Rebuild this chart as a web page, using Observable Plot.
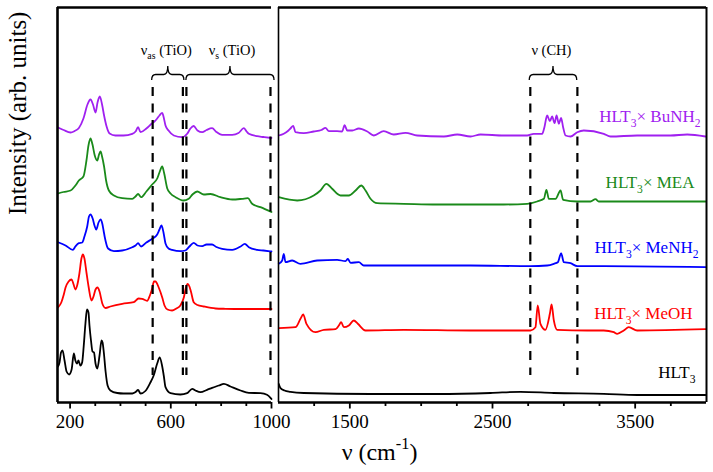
<!DOCTYPE html>
<html><head><meta charset="utf-8">
<script src="https://cdn.jsdelivr.net/npm/d3@7"></script>
<script src="https://cdn.jsdelivr.net/npm/@observablehq/plot@0.6"></script>
<style>
body{margin:0;background:#fff;}
#chart{position:relative;width:713px;height:472px;background:#fff;}
#chart svg{position:absolute;left:0;top:0;}
#chart svg text{font-family:"Liberation Serif",serif;}
</style></head><body><div id="chart"></div>
<script>
// ---------- data (wavenumber in cm^-1, stacked intensity in arb. units) ----------
const seriesNames = ["HLT_{3}× BuNH_{2}", "HLT_{3}× MEA", "HLT_{3}× MeNH_{2}", "HLT_{3}× MeOH", "HLT_{3}"];
const seriesColors = ["#a020f0", "#1a8a1a", "#0000ff", "#ff0000", "#000000"];

// left panel (150 – 1000 cm^-1)
const leftBuNH2 = [[152,275],[174,272.5],[202,270],[218,271.5],[235,274.5],[253,284],[269,298],[281,303],[291,298],[301,290],[309,300],[318,306],[327,298],[335,287],[345,276],[357,269],[380,267],[412,267],[447,268.7],[460,271],[470,275.3],[480,270.3],[503,274],[526,279.3],[535,281],[546,284],[555,287],[566,289.7],[571,286],[579,277],[591,272],[612,267],[645,265.3],[665,268.7],[678,274],[691,276.5],[706,272],[725,270.3],[742,272.5],[764,274.3],[781,270.5],[804,267.7],[844,267.7],[869,269.5],[890,274.3],[901,271],[910,268.7],[943,266.3],[968,265.5],[1000,264.5]];
const leftMEA = [[152,209],[174,210.5],[202,212],[221,217],[235,222],[253,226],[265,242],[273,257],[281,264],[289,258],[298,247],[308,242],[315,248],[321,251],[327,246],[335,236],[343,222],[354,212],[374,207],[407,204.3],[447,203.7],[460,206],[470,208.5],[482,205.3],[503,211],[526,218],[546,224],[555,230],[566,236],[573,230],[586,214],[599,209],[619,205.3],[650,202],[671,203.7],[686,208],[705,211],[731,208],[758,208.5],[797,205.3],[844,203],[883,203.7],[906,204.3],[923,198.7],[956,195.3],[1000,190.5]];
const leftMeNH2 = [[152,160.3],[182,157],[211,152.7],[221,156],[235,159.3],[248,160],[257,166],[268,176],[275,186],[281,188],[290,183.7],[297,177],[304,173],[313,180],[321,183],[328,178.7],[333,172],[338,165],[351,154],[374,151.3],[407,152],[447,155.3],[460,157],[470,159.3],[482,156],[503,160],[526,163.7],[546,168],[555,173],[563,177],[571,170],[579,159],[591,154],[605,152.7],[638,151.3],[658,152],[674,156],[691,159.7],[706,157],[725,156.3],[742,158],[764,158],[781,155.5],[804,153.7],[844,152.7],[877,156],[894,158.7],[910,155.3],[943,152.7],[968,152],[1000,151]];
const leftMeOH = [[152,95],[165,100],[175,108],[182,115],[194,121],[206,123],[214,118],[221,113],[229,118],[237,129],[245,144],[251,148],[257,144],[265,130],[274,115],[285,102],[293,106],[301,113],[309,115],[317,111],[328,99],[341,94.5],[360,96],[407,98.7],[453,100.3],[472,104],[486,103.7],[506,101.7],[517,107],[526,114],[533,121],[539,121],[552,115],[566,105],[575,97],[587,93],[605,92],[622,94],[638,97],[652,105.3],[660,115],[667,118.7],[674,116],[680,111],[691,100.3],[706,97.5],[731,96],[778,94],[817,93.7],[890,93.5],[1000,93.5]];
const leftHLT3 = [[152,36],[158,40],[164,50],[170,52],[178,42],[186,31],[196,28],[206,33],[215,49],[221,42],[228,39],[233,42],[241,37],[248,40.3],[254,56],[261,79],[267,93],[273,90],[277,77],[283,62],[289,51],[295,50],[301,39],[308,34],[317,47],[325,62],[329,60],[334,50],[341,31],[349,17],[360,12],[387,9.5],[412,9],[447,9],[460,10.5],[470,12.5],[480,9],[499,11.5],[519,20],[532,27],[546,39],[556,45],[566,36],[572,27],[579,15.3],[599,9.3],[638,8],[665,9.3],[685,13.7],[698,12],[718,10.3],[744,12.7],[764,14.7],[791,17],[811,18.7],[837,16],[877,12],[910,9.7],[956,9.3],[982,7.7],[996,4.7],[1000,3.5]];

// right panel (1000 – 4000 cm^-1)
const rightBuNH2 = [[1002,267],[1037,268.7],[1070,272],[1084,274],[1103,276.7],[1119,270.3],[1177,269.3],[1247,271],[1301,272.5],[1329,274.7],[1353,271.3],[1411,271.3],[1446,271],[1463,277.3],[1482,272],[1517,272],[1563,274],[1622,271],[1668,267],[1738,271.3],[1808,268],[1890,269.7],[1972,267],[2159,266],[2253,268],[2346,266],[2416,268],[2579,267],[2743,267],[2789,268.7],[2848,268.7],[2864,275.3],[2883,287],[2902,281.3],[2918,286],[2935,279.3],[2949,287],[2965,278.7],[2981,284.7],[2995,275.3],[3012,267],[3047,266],[3094,270.3],[3140,272],[3280,268.7],[3327,266],[3514,267],[3748,267],[3865,268],[3993,266]];
const rightMEA = [[1002,205.3],[1131,202],[1247,207],[1294,212],[1336,218.7],[1376,213.7],[1435,207],[1493,207],[1540,212],[1580,217],[1610,212],[1645,203.7],[1692,199.3],[1878,198.7],[2112,198],[2393,198],[2579,198],[2743,198.7],[2813,201],[2860,203.7],[2878,212.7],[2895,203.7],[2942,203.7],[2977,212],[2995,202.7],[3094,201],[3187,201],[3222,203.3],[3245,201],[3514,201],[3993,201]];
const rightMeNH2 = [[1002,138.7],[1026,142],[1037,148.7],[1049,140.3],[1096,142],[1154,138.7],[1271,142],[1411,142.7],[1470,141.3],[1486,143.5],[1505,139.7],[1563,140.3],[1598,137],[1878,137],[2346,137],[2766,136.3],[2883,137],[2930,138.7],[2958,140.3],[2981,149.3],[3000,140.3],[3047,139.3],[3094,136.3],[3280,136.3],[3993,135.3]];
const rightMeOH = [[1002,74.3],[1119,75.3],[1154,83.7],[1173,88],[1196,78.7],[1259,70.3],[1318,72.7],[1400,73.3],[1423,77],[1439,80.3],[1458,75.3],[1493,77],[1528,82],[1556,78.7],[1610,72],[1878,72.7],[2346,72],[2766,72],[2801,75.3],[2817,97],[2836,78.7],[2871,72.7],[2902,88.7],[2914,98],[2930,82],[2953,72.7],[3164,72],[3280,72],[3350,70.3],[3374,68.7],[3420,72],[3455,75.3],[3514,72],[3993,73.3]];
const rightHLT3 = [[1002,18.5],[1014,14.3],[1042,12],[1084,10.7],[1177,9.5],[1645,8.5],[2112,8.5],[2486,9.5],[2696,10.7],[2930,9.5],[3280,8.7],[3514,7.5],[3993,7.5]];

// axes
const leftTicks = [200,300,400,500,600,700,800,900,1000];
const leftTickLabels = [200,600,1000];
const rightTicks = [1250,1500,1750,2000,2250,2500,2750,3000,3250,3500,3750];
const rightTickLabels = [1500,2500,3500];
const yTitle = "Intensity (arb. units)";
const xTitle = "ν (cm^{-1})";

// annotations
const leftDashes = [528,648,662,996];
const rightDashes = [2765,3095];
const leftBraces = [[526,654],[662,1012]];
const rightBraces = [[2761,3094]];
const leftBandNames = ["ν_{as} (TiO)","ν_{s} (TiO)"];
const leftBandX = [582,843];
const rightBandNames = ["ν (CH)"];
const rightBandX = [2913];
const labelX = [3958,3916,3944,3902,3923];
const labelY = [281,215,150,84,25];

// ---------- drawing ----------
const W = 713, H = 472;
const YDOMAIN = [0,395];
const dashTop = 315, dashBottom = 27, bandY = 348;
const font = "Liberation Serif";

function spectra(list) {
  return list.map((arr,i) => Plot.line(arr, {x: d=>d[0], y: d=>d[1], stroke: seriesColors[i], strokeWidth: 1.8, curve: "monotone-x"}));
}
function ticks(all, major) {
  return [
    Plot.ruleX(all.filter(t=>!major.includes(t)), {x: d=>d, y1: 0, y2: -4, strokeWidth: 1.8}),
    Plot.ruleX(major, {x: d=>d, y1: 0, y2: -6.5, strokeWidth: 1.8}),
    Plot.text(major, {x: d=>d, y: 0, dy: 25, text: d=>String(d), lineAnchor: "bottom", fontSize: 19, fontFamily: font})
  ];
}

const left = Plot.plot({
  width: W, height: H,
  marginLeft: 57, marginRight: W-271, marginTop: 7, marginBottom: 70,
  x: {domain: [150,1000], axis: null},
  y: {domain: YDOMAIN, axis: null},
  style: {background: "transparent", overflow: "visible", fontFamily: font, fontSize: "19px"},
  marks: [
    ...spectra([leftBuNH2,leftMEA,leftMeNH2,leftMeOH,leftHLT3]),
    Plot.ruleX(leftDashes, {x: d=>d, y1: dashTop, y2: dashBottom, stroke: "black", strokeWidth: 2.2, strokeDasharray: "9,7.5"}),
    Plot.ruleX([150], {strokeWidth: 2.6}),
    Plot.ruleY([0, YDOMAIN[1]], {strokeWidth: 2.6}),
    ...ticks(leftTicks, leftTickLabels),
    Plot.text(leftBandNames, {x: (d,i)=>leftBandX[i], y: bandY, text: d=>d, lineAnchor: "bottom", fontSize: 14.5, fontFamily: font}),
    Plot.text([yTitle], {frameAnchor: "left", dx: -32, dy: 10, rotate: -90, lineAnchor: "bottom", fontSize: 25, fontFamily: font})
  ]
});

const right = Plot.plot({
  width: W, height: H,
  marginLeft: 278, marginRight: W-706, marginTop: 7, marginBottom: 70,
  x: {domain: [1000,4000], axis: null},
  y: {domain: YDOMAIN, axis: null},
  style: {background: "transparent", overflow: "visible", fontFamily: font, fontSize: "19px"},
  marks: [
    ...spectra([rightBuNH2,rightMEA,rightMeNH2,rightMeOH,rightHLT3]),
    Plot.ruleX(rightDashes, {x: d=>d, y1: dashTop, y2: dashBottom, stroke: "black", strokeWidth: 2.2, strokeDasharray: "9,7.5"}),
    Plot.ruleX([1000], {strokeWidth: 1.6}),
    Plot.ruleX([4000], {strokeWidth: 2}),
    Plot.ruleY([0, YDOMAIN[1]], {strokeWidth: 2.6}),
    ...ticks(rightTicks, rightTickLabels),
    Plot.text(rightBandNames, {x: (d,i)=>rightBandX[i], y: bandY, text: d=>d, lineAnchor: "bottom", fontSize: 14.5, fontFamily: font}),
    Plot.text(seriesNames, {x: (d,i)=>labelX[i], y: (d,i)=>labelY[i], text: d=>d, fill: (d,i)=>seriesColors[i], textAnchor: "end", lineAnchor: "bottom", fontSize: 17, fontFamily: font}),
    Plot.text([xTitle], {frameAnchor: "bottom", dx: -113, dy: 57, lineAnchor: "bottom", fontSize: 24, fontFamily: font})
  ]
});

function scaleFn(plot, name) {
  const s = plot.scale(name);
  if (s && typeof s.apply === "function") return v => s.apply(v);
  return d3.scaleLinear(s.domain, s.range);
}
function addBraces(plot, spans) {
  const fx = scaleFn(plot, "x"), fy = scaleFn(plot, "y");
  const yEnd = fy(322), yFlat = fy(327.5), yTip = fy(336);
  const g = d3.select(plot).append("g").attr("fill","none").attr("stroke","black").attr("stroke-width",1.3);
  for (const [a,b] of spans) {
    const x1 = fx(a), x2 = fx(b), xm = (x1+x2)/2, r = 4;
    g.append("path").attr("d",
      `M${x1},${yEnd} Q${x1},${yFlat} ${x1+r},${yFlat} L${xm-r},${yFlat} Q${xm},${yFlat} ${xm},${yTip} ` +
      `Q${xm},${yFlat} ${xm+r},${yFlat} L${x2-r},${yFlat} Q${x2},${yFlat} ${x2},${yEnd}`);
  }
}
function richText(svg) {
  d3.select(svg).selectAll("text").each(function() {
    const t = this.textContent;
    if (!/[_^]\{/.test(t)) return;
    const el = d3.select(this);
    el.selectAll("*").remove();
    el.text(null);
    const parts = t.split(/([_^]\{[^}]*\})/).filter(p => p.length);
    let shift = 0;
    for (const p of parts) {
      const m = p.match(/^([_^])\{([^}]*)\}$/);
      const ts = el.append("tspan");
      if (m) {
        const s = m[1] === "_" ? 0.32 : -0.42;
        ts.attr("font-size","68%").attr("dy", `${(s - shift)/0.68}em`).text(m[2]);
        shift = s;
      } else {
        if (shift) ts.attr("dy", `${-shift}em`);
        shift = 0;
        ts.text(p);
      }
    }
  });
}
addBraces(left, leftBraces);
addBraces(right, rightBraces);
richText(left);
richText(right);
document.getElementById("chart").append(left, right);
</script></body></html>
